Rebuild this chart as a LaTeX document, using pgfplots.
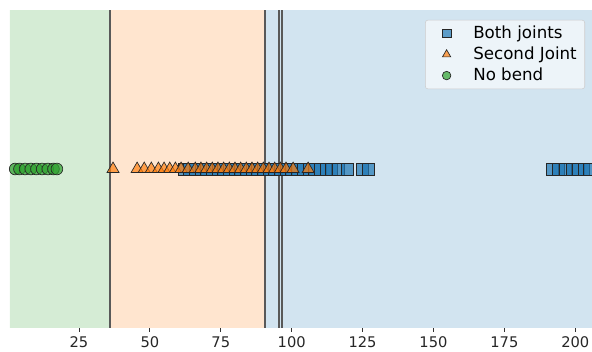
\documentclass[border=0pt]{standalone}
\usepackage{fontspec}
\setmainfont{DejaVu Sans}
\usepackage{pgfplots}
\pgfplotsset{compat=1.18}
\definecolor{tabblue}{RGB}{31,119,180}
\definecolor{taborange}{RGB}{255,127,14}
\definecolor{tabgreen}{RGB}{44,160,44}
\definecolor{bggreen}{RGB}{213,236,213}
\definecolor{bgorange}{RGB}{255,229,207}
\definecolor{bgblue}{RGB}{210,228,240}
\begin{document}
\begin{tikzpicture}
\begin{axis}[
  at={(7.5pt,18pt)}, anchor=south west,
  scale only axis, width=436.5pt, height=238.5pt,
  xmin=0.67, xmax=205.9, ymin=-1, ymax=1,
  axis line style={draw=none},
  ytick=\empty,
  xtick={25,50,75,100,125,150,175,200},
  xtick pos=left, tick align=outside,
  major tick length=3pt,
  tick style={black!80, line width=0.6pt},
  /pgf/number format/assume math mode=true,
  ticklabel style={font=\fontsize{11}{13}\selectfont, text=black!85},
  clip=true,
  legend style={at={(0.988,0.969)}, anchor=north east,
    fill=white, fill opacity=0.6, text opacity=1, draw=black!20,
    rounded corners=2pt, font=\fontsize{12.5}{14}\selectfont,
    row sep=0.8pt, inner xsep=4pt, inner ysep=2.5pt},
  legend cell align=left,
  legend image code/.code={\path[draw=none,fill=none] (0pt,0pt) -- (30pt,0pt); \draw[#1] plot coordinates {(12pt,0pt)};},
]
% background regions
\addplot[draw=none, fill=bggreen, forget plot] coordinates {(0,-1) (35.9,-1) (35.9,1) (0,1)} -- cycle;
\addplot[draw=none, fill=bgorange, forget plot] coordinates {(35.9,-1) (90.6,-1) (90.6,1) (35.9,1)} -- cycle;
\addplot[draw=none, fill=bgblue, forget plot] coordinates {(90.6,-1) (210,-1) (210,1) (90.6,1)} -- cycle;
% boundary lines
\addplot[black!65, line width=0.9pt, forget plot] coordinates {(35.9,-1) (35.9,1)};
\addplot[black!65, line width=0.9pt, forget plot] coordinates {(90.6,-1) (90.6,1)};
\addplot[black!65, line width=0.9pt, forget plot] coordinates {(95.5,-1) (95.5,1)};
\addplot[black!65, line width=0.9pt, forget plot] coordinates {(96.6,-1) (96.6,1)};
% Both joints
\addplot[only marks, mark=square*, mark size=4.4pt,
  mark options={fill=tabblue, fill opacity=0.7, draw=black!85, line width=0.5pt},
  legend image post style={mark size=3.2pt}]
  coordinates {(62,0) (64,0) (66,0) (68,0) (70,0) (72,0) (74,0) (76,0) (78,0) (80,0)
  (82,0) (84,0) (86,0) (88,0) (90,0) (92,0) (94,0) (96,0) (98,0) (100,0) (102,0)
  (104,0) (106,0) (108,0) (110,0) (112,0) (114,0) (116.5,0) (119.5,0) (125,0) (127,0)
  (192,0) (194,0) (196.5,0) (199,0) (201,0) (203,0) (205,0)};
\addlegendentry{Both joints}
% Second joint
\addplot[only marks, mark=triangle*, mark size=5.2pt,
  mark options={fill=taborange, fill opacity=0.7, draw=black!85, line width=0.5pt},
  legend image post style={mark size=3.6pt}]
  coordinates {(37,0) (45.5,0) (48,0) (50.5,0) (53,0) (55,0) (57,0) (59,0) (61,0) (63.5,0)
  (66,0) (68,0) (70,0) (72,0) (74,0) (76,0) (78,0) (80,0) (82,0) (84,0) (86,0)
  (88,0) (90,0) (92,0) (94,0) (96,0) (98,0) (100.5,0) (105.8,0)};
\addlegendentry{Second Joint}
% No bend
\addplot[only marks, mark=*, mark size=4.4pt,
  mark options={fill=tabgreen, fill opacity=0.7, draw=black!85, line width=0.5pt},
  legend image post style={mark size=3.2pt}]
  coordinates {(2.5,0) (4,0) (6,0) (8,0) (10,0) (12,0) (14,0) (16,0) (17.2,0)};
\addlegendentry{No bend}
\end{axis}
\pgfresetboundingbox
\useasboundingbox (0,0) rectangle (444pt,264pt);
\end{tikzpicture}
\end{document}
